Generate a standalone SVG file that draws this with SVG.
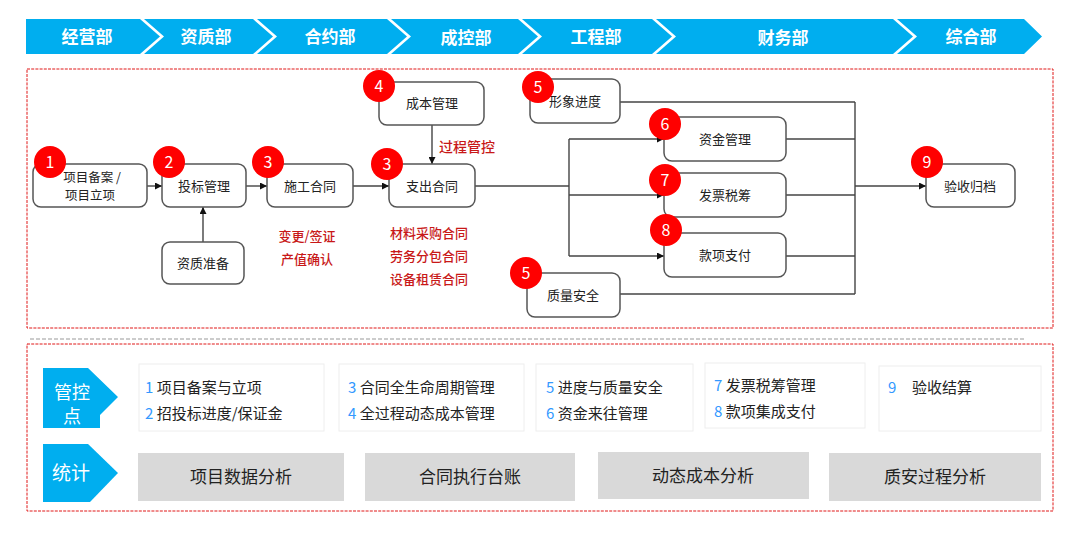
<svg xmlns="http://www.w3.org/2000/svg" width="1080" height="533" viewBox="0 0 1080 533">
<style>
text{font-family:"Noto Sans CJK SC","Liberation Sans",sans-serif;}
.hdr{fill:#00AEEF;}
.hdrt{fill:#fff;font-size:17px;font-weight:bold;text-anchor:middle;dominant-baseline:central;}
.node{fill:#fff;stroke:#555;stroke-width:1.5;}
.nt{fill:#222;font-size:13px;text-anchor:middle;dominant-baseline:central;}
.badge{fill:#FF0000;}
.bt{fill:#fff;font-size:16px;text-anchor:middle;dominant-baseline:central;}
.red{fill:#C81818;font-size:13px;text-anchor:middle;dominant-baseline:central;font-weight:500;}
.conn{fill:none;stroke:#444;stroke-width:1.4;}
.frame{fill:none;stroke:#E01818;stroke-width:1;stroke-dasharray:3 1.2;}
.card{fill:#fff;stroke:#EEE;stroke-width:1;}
.ct{fill:#222;font-size:15px;dominant-baseline:central;}
.num{fill:#3399FF;}
.gbox{fill:#D9D9D9;}
.gt{fill:#222;font-size:17px;text-anchor:middle;dominant-baseline:central;}
.tag{fill:#00AEEF;}
.tagt{fill:#fff;font-size:19px;text-anchor:middle;dominant-baseline:central;}
</style>
<defs>
<marker id="arr" viewBox="0 0 10 10" refX="10" refY="5" markerWidth="7" markerHeight="7" markerUnits="userSpaceOnUse" orient="auto">
<path d="M0,0 L10,5 L0,10 z" fill="#111"/>
</marker>
</defs>
<rect width="1080" height="533" fill="#fff"/>

<!-- header chevrons -->
<g id="header">
<polygon class="hdr" points="26,19 140,19 160,36.5 140,54 26,54"/>
<polygon class="hdr" points="144,19 253,19 273,36.5 253,54 144,54 164,36.5"/>
<polygon class="hdr" points="257,19 387,19 407,36.5 387,54 257,54 277,36.5"/>
<polygon class="hdr" points="391,19 518,19 538,36.5 518,54 391,54 411,36.5"/>
<polygon class="hdr" points="522,19 652,19 672,36.5 652,54 522,54 542,36.5"/>
<polygon class="hdr" points="656,19 893,19 913,36.5 893,54 656,54 676,36.5"/>
<polygon class="hdr" points="897,19 1024,19 1042,36.5 1024,54 897,54 917,36.5"/>
<text class="hdrt" x="87" y="35">经营部</text>
<text class="hdrt" x="206" y="35">资质部</text>
<text class="hdrt" x="330" y="35">合约部</text>
<text class="hdrt" x="466" y="36">成控部</text>
<text class="hdrt" x="596" y="35">工程部</text>
<text class="hdrt" x="783" y="36">财务部</text>
<text class="hdrt" x="971" y="35">综合部</text>
</g>

<!-- frames -->
<rect class="frame" x="27" y="69" width="1026" height="259"/>
<line x1="30" y1="339" x2="1024" y2="339" stroke="#999" stroke-width="1.2" stroke-dasharray="4 2"/>
<rect class="frame" x="27" y="344" width="1026" height="167"/>

<!-- connectors -->
<g id="connectors">
<line class="conn" x1="147" y1="186" x2="162" y2="186" marker-end="url(#arr)"/>
<line class="conn" x1="246" y1="186" x2="267" y2="186" marker-end="url(#arr)"/>
<line class="conn" x1="353" y1="186" x2="389" y2="186" marker-end="url(#arr)"/>
<line class="conn" x1="203" y1="242" x2="203" y2="207" marker-end="url(#arr)"/>
<line class="conn" x1="432" y1="125" x2="432" y2="164" marker-end="url(#arr)"/>
<polyline class="conn" points="475,186 569,186"/>
<line class="conn" x1="569" y1="139" x2="569" y2="256"/>
<line class="conn" x1="569" y1="139" x2="664" y2="139" marker-end="url(#arr)"/>
<line class="conn" x1="569" y1="195" x2="664" y2="195" marker-end="url(#arr)"/>
<line class="conn" x1="569" y1="256" x2="664" y2="256" marker-end="url(#arr)"/>
<line class="conn" x1="620" y1="102" x2="855" y2="102"/>
<line class="conn" x1="786" y1="139" x2="855" y2="139"/>
<line class="conn" x1="786" y1="195" x2="855" y2="195"/>
<line class="conn" x1="786" y1="256" x2="855" y2="256"/>
<line class="conn" x1="620" y1="294" x2="855" y2="294"/>
<line class="conn" x1="855" y1="102" x2="855" y2="294"/>
<line class="conn" x1="855" y1="186" x2="926" y2="186" marker-end="url(#arr)"/>
</g>

<!-- nodes -->
<g id="n1">
<rect class="node" x="33" y="164" width="114" height="43" rx="8"/>
<text class="nt" x="92" y="176" style="font-size:12.5px">项目备案 /</text>
<text class="nt" x="90" y="194" style="font-size:12.5px">项目立项</text>
<circle class="badge" cx="50" cy="162" r="16"/><text class="bt" x="50" y="161">1</text>
</g>
<g id="n2">
<rect class="node" x="162" y="164" width="84" height="43" rx="8"/>
<text class="nt" x="204" y="185">投标管理</text>
<circle class="badge" cx="169" cy="162" r="16"/><text class="bt" x="169" y="161">2</text>
</g>
<g id="n3">
<rect class="node" x="267" y="164" width="86" height="43" rx="8"/>
<text class="nt" x="310" y="185">施工合同</text>
<circle class="badge" cx="268" cy="162" r="16"/><text class="bt" x="268" y="161">3</text>
</g>
<g id="n_zzzb">
<rect class="node" x="162" y="242" width="82" height="42" rx="8"/>
<text class="nt" x="203" y="262">资质准备</text>
</g>
<g id="n_zchs">
<rect class="node" x="389" y="164" width="86" height="43" rx="8"/>
<text class="nt" x="432" y="185">支出合同</text>
<circle class="badge" cx="387" cy="164" r="16"/><text class="bt" x="387" y="163">3</text>
</g>
<g id="n4">
<rect class="node" x="379" y="82" width="105" height="43" rx="8"/>
<text class="nt" x="432" y="102">成本管理</text>
<circle class="badge" cx="379" cy="86" r="16"/><text class="bt" x="379" y="85">4</text>
</g>
<g id="n5a">
<rect class="node" x="530" y="79" width="90" height="44" rx="8"/>
<text class="nt" x="575" y="100">形象进度</text>
<circle class="badge" cx="538" cy="87" r="16"/><text class="bt" x="538" y="86">5</text>
</g>
<g id="n6">
<rect class="node" x="664" y="117" width="122" height="44" rx="8"/>
<text class="nt" x="725" y="138">资金管理</text>
<circle class="badge" cx="665" cy="124" r="16"/><text class="bt" x="665" y="123">6</text>
</g>
<g id="n7">
<rect class="node" x="664" y="173" width="122" height="44" rx="8"/>
<text class="nt" x="725" y="194">发票税筹</text>
<circle class="badge" cx="665" cy="180" r="16"/><text class="bt" x="665" y="179">7</text>
</g>
<g id="n8">
<rect class="node" x="664" y="233" width="122" height="44" rx="8"/>
<text class="nt" x="725" y="254">款项支付</text>
<circle class="badge" cx="666" cy="230" r="16"/><text class="bt" x="666" y="229">8</text>
</g>
<g id="n5b">
<rect class="node" x="527" y="273" width="93" height="44" rx="8"/>
<text class="nt" x="573" y="294">质量安全</text>
<circle class="badge" cx="526" cy="273" r="16"/><text class="bt" x="526" y="272">5</text>
</g>
<g id="n9">
<rect class="node" x="926" y="164" width="89" height="43" rx="8"/>
<text class="nt" x="970" y="185">验收归档</text>
<circle class="badge" cx="927" cy="162" r="16"/><text class="bt" x="927" y="161">9</text>
</g>

<!-- red annotations -->
<g id="notes">
<text class="red" x="467" y="146" style="font-size:14px">过程管控</text>
<text class="red" x="307" y="235">变更/签证</text>
<text class="red" x="307" y="258">产值确认</text>
<text class="red" x="429" y="232">材料采购合同</text>
<text class="red" x="429" y="255">劳务分包合同</text>
<text class="red" x="429" y="278">设备租赁合同</text>
</g>

<!-- bottom section -->
<g id="tag1">
<polygon class="tag" points="43,368 88,368 118,397 100,415 100,428 43,428"/>
<text class="tagt" x="72" y="391" style="font-size:18px">管控</text>
<text class="tagt" x="72" y="415" style="font-size:18px">点</text>
</g>
<g id="tag2">
<polygon class="tag" points="43,444 88,444 118,473 90,502 43,502"/>
<text class="tagt" x="71" y="471">统计</text>
</g>
<g id="card1">
<rect class="card" x="139" y="364" width="185" height="67"/>
<text class="ct" x="145" y="386"><tspan class="num">1</tspan> 项目备案与立项</text>
<text class="ct" x="145" y="412"><tspan class="num">2</tspan> 招投标进度/保证金</text>
</g>
<g id="card2">
<rect class="card" x="339" y="364" width="185" height="67"/>
<text class="ct" x="348" y="386"><tspan class="num">3</tspan> 合同全生命周期管理</text>
<text class="ct" x="348" y="412"><tspan class="num">4</tspan> 全过程动态成本管理</text>
</g>
<g id="card3">
<rect class="card" x="536" y="364" width="157" height="67"/>
<text class="ct" x="546" y="386"><tspan class="num">5</tspan> 进度与质量安全</text>
<text class="ct" x="546" y="412"><tspan class="num">6</tspan> 资金来往管理</text>
</g>
<g id="card4">
<rect class="card" x="705" y="363" width="160" height="65"/>
<text class="ct" x="714" y="384"><tspan class="num">7</tspan> 发票税筹管理</text>
<text class="ct" x="714" y="410"><tspan class="num">8</tspan> 款项集成支付</text>
</g>
<g id="card5">
<rect class="card" x="879" y="366" width="162" height="65"/>
<text class="ct" x="888" y="386"><tspan class="num">9</tspan></text>
<text class="ct" x="912" y="386">验收结算</text>
</g>
<g id="stat1"><rect class="gbox" x="138" y="453" width="206" height="48"/><text class="gt" x="241" y="475">项目数据分析</text></g>
<g id="stat2"><rect class="gbox" x="365" y="453" width="210" height="48"/><text class="gt" x="470" y="475">合同执行台账</text></g>
<g id="stat3"><rect class="gbox" x="598" y="452" width="211" height="47"/><text class="gt" x="703" y="474">动态成本分析</text></g>
<g id="stat4"><rect class="gbox" x="829" y="453" width="212" height="48"/><text class="gt" x="935" y="475">质安过程分析</text></g>
</svg>
